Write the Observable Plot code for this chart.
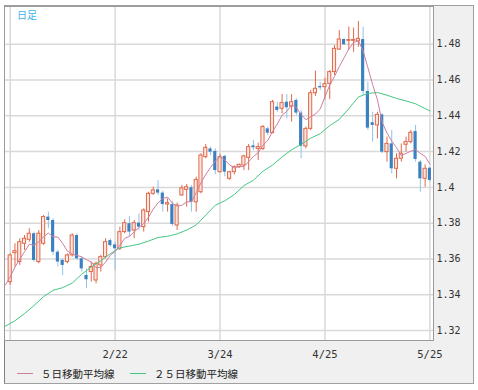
<!DOCTYPE html>
<html>
<head>
<meta charset="utf-8">
<script src="https://cdn.jsdelivr.net/npm/d3@7"></script>
<script src="https://cdn.jsdelivr.net/npm/@observablehq/plot@0.6"></script>
<style>
  html, body { margin: 0; padding: 0; background: #fff; }
  #wrap { position: relative; width: 478px; height: 390px; overflow: hidden; }
  #panel { position: absolute; left: 4px; top: 5px; width: 470px; height: 379px; box-sizing: border-box;
           background: #f0f0f0; border: 1px solid #a0a0a0; border-left-color: #808080; }
  #chart { position: absolute; left: 0; top: 0; }
  #title { position: absolute; left: 17px; top: 7px; color: #3cb4ea; font: 10px "Noto Sans CJK JP"; letter-spacing: 0px; }
  #legend { position: absolute; left: 17px; top: 365px; font: 10.5px "Noto Sans CJK JP"; color: #222; white-space: nowrap; }
  #legend .item { position: absolute; top: 0; display: flex; align-items: center; height: 16px; }
  #legend .sw { display: inline-block; width: 16px; height: 0; border-top: 1px solid; margin-right: 8px; }
</style>
</head>
<body>
<div id="wrap">
  <div id="panel"></div>
  <div id="chart"></div>
  <div id="title">日足</div>
  <div id="legend"></div>
</div>
<script>
// ---- data ----
const barIndex = d3.range(1, 90);
const open  = [1.3471,1.3633,1.3583,1.3685,1.3707,1.3741,1.3583,1.3685,1.3834,1.3815,
               1.3638,1.3592,1.3583,1.3620,1.3731,1.3601,1.3508,1.3527,1.3480,1.3564,
               1.3610,1.3703,1.3679,1.3657,1.3750,1.3797,1.3759,1.3800,1.3778,1.3862,
               1.3964,1.3986,1.3968,1.3904,1.3904,1.3787,1.3955,1.3986,1.3998,1.3917,
               1.3973,1.4169,1.4215,1.4201,1.4085,1.4173,1.4048,1.4085,1.4113,1.4122,
               1.4165,1.4232,1.4215,1.4215,1.4327,1.4303,1.4449,1.4439,1.4476,1.4452,
               1.4486,1.4415,1.4229,1.4327,1.4526,1.4564,1.4560,1.4579,1.4644,1.4770,
               1.4826,1.4819,1.4819,1.4815,1.4826,1.4536,1.4361,1.4346,1.4405,1.4197,
               1.4243,1.4104,1.4160,1.4238,1.4253,1.4312,1.4141,1.4048,1.4107];
const high  = [1.3629,1.3685,1.3713,1.3731,1.3769,1.3750,1.3759,1.3843,1.3862,1.3825,
               1.3648,1.3601,1.3629,1.3741,1.3741,1.3610,1.3545,1.3583,1.3583,1.3620,
               1.3713,1.3713,1.3694,1.3778,1.3819,1.3837,1.3815,1.3852,1.3880,1.3973,
               1.4001,1.4038,1.3979,1.3936,1.3923,1.3912,1.4011,1.4016,1.4011,1.4057,
               1.4188,1.4240,1.4225,1.4215,1.4185,1.4180,1.4090,1.4120,1.4130,1.4180,
               1.4240,1.4262,1.4247,1.4346,1.4337,1.4486,1.4476,1.4519,1.4519,1.4519,
               1.4495,1.4430,1.4337,1.4541,1.4650,1.4588,1.4610,1.4653,1.4793,1.4876,
               1.4830,1.4895,1.4890,1.4927,1.4895,1.4588,1.4420,1.4420,1.4411,1.4281,
               1.4318,1.4188,1.4243,1.4281,1.4318,1.4346,1.4150,1.4126,1.4113];
const low   = [1.3452,1.3555,1.3564,1.3648,1.3694,1.3583,1.3573,1.3676,1.3769,1.3620,
               1.3555,1.3508,1.3573,1.3610,1.3592,1.3527,1.3434,1.3471,1.3461,1.3527,
               1.3601,1.3666,1.3536,1.3647,1.3741,1.3722,1.3713,1.3759,1.3750,1.3806,
               1.3955,1.3955,1.3862,1.3862,1.3782,1.3759,1.3950,1.3890,1.3862,1.3862,
               1.3964,1.4160,1.4178,1.4070,1.4080,1.4060,1.4039,1.4070,1.4105,1.4094,
               1.4094,1.4206,1.4150,1.4206,1.4290,1.4300,1.4420,1.4411,1.4383,1.4365,
               1.4402,1.4160,1.4215,1.4318,1.4508,1.4541,1.4490,1.4490,1.4625,1.4765,
               1.4793,1.4765,1.4755,1.4783,1.4513,1.4318,1.4253,1.4271,1.4188,1.4141,
               1.4076,1.4048,1.4141,1.4197,1.4243,1.4141,1.3973,1.4001,1.4030];
const close = [1.3620,1.3644,1.3694,1.3713,1.3741,1.3592,1.3741,1.3834,1.3815,1.3638,
               1.3583,1.3564,1.3620,1.3731,1.3601,1.3545,1.3484,1.3555,1.3573,1.3610,
               1.3694,1.3675,1.3657,1.3750,1.3800,1.3750,1.3800,1.3778,1.3871,1.3964,
               1.3983,1.3968,1.3904,1.3912,1.3793,1.3899,1.3995,1.4001,1.3917,1.4042,
               1.4178,1.4221,1.4197,1.4094,1.4169,1.4085,1.4085,1.4113,1.4126,1.4173,
               1.4225,1.4221,1.4225,1.4337,1.4303,1.4476,1.4430,1.4471,1.4445,1.4476,
               1.4415,1.4229,1.4327,1.4526,1.4551,1.4556,1.4577,1.4644,1.4774,1.4826,
               1.4797,1.4823,1.4823,1.4830,1.4536,1.4331,1.4346,1.4405,1.4197,1.4243,
               1.4104,1.4160,1.4188,1.4253,1.4305,1.4156,1.4048,1.4104,1.4039];

// 5-day moving average line, one reading per bar (bars 0..89)
const ma5 = [1.3455,1.3500,1.3555,1.3600,1.3640,1.3682,1.3677,1.3696,1.3724,1.3745,
             1.3724,1.3722,1.3687,1.3644,1.3627,1.3620,1.3612,1.3596,1.3583,1.3552,
             1.3553,1.3583,1.3621,1.3642,1.3677,1.3715,1.3726,1.3751,1.3776,1.3800,
             1.3833,1.3879,1.3913,1.3938,1.3946,1.3912,1.3895,1.3900,1.3919,1.3920,
             1.3970,1.4026,1.4072,1.4111,1.4146,1.4172,1.4153,1.4126,1.4109,1.4116,
             1.4116,1.4144,1.4172,1.4194,1.4236,1.4262,1.4312,1.4354,1.4403,1.4425,
             1.4460,1.4447,1.4407,1.4378,1.4395,1.4410,1.4438,1.4507,1.4571,1.4620,
             1.4675,1.4724,1.4773,1.4809,1.4820,1.4762,1.4669,1.4573,1.4490,1.4363,
             1.4304,1.4259,1.4222,1.4178,1.4190,1.4202,1.4212,1.4190,1.4173,1.4130];

// 25-day moving average line, read every second bar
const ma25Bars = [0,2,4,6,8,10,12,14,16,18,20,22,24,26,28,30,32,34,36,38,40,42,44,
                  46,48,50,52,54,56,58,60,62,64,66,68,70,72,74,76,78,80,82,84,86,88,89];
const ma25 = [1.3225,1.3255,1.3295,1.3340,1.3390,1.3425,1.3440,1.3465,1.3515,1.3555,
              1.3590,1.3630,1.3662,1.3672,1.3683,1.3700,1.3720,1.3727,1.3740,1.3762,
              1.3790,1.3845,1.3900,1.3925,1.3960,1.4010,1.4040,1.4090,1.4125,1.4170,
              1.4210,1.4240,1.4275,1.4300,1.4345,1.4380,1.4440,1.4505,1.4525,1.4530,
              1.4515,1.4497,1.4483,1.4467,1.4440,1.4428];

const yTicks  = [1.32,1.34,1.36,1.38,1.40,1.42,1.44,1.46,1.48];
const yLabels = ["1.32","1.34","1.36","1.38","1.4","1.42","1.44","1.46","1.48"];
const gridBars = [1,23,45,67,89];
const xTickBars = [23,45,67,89];
const xLabels = ["2/22","3/24","4/25","5/25"];
const seriesNames = ["５日移動平均線","２５日移動平均線"];
const seriesColors = ["#cc7fa0","#45c784"];

// ---- build tables ----
const candles = barIndex.map((b, k) => ({i: b, open: open[k], high: high[k], low: low[k], close: close[k]}));
const up = candles.filter(d => d.close >= d.open);
const down = candles.filter(d => d.close < d.open);
const ma5Data = ma5.map((v, k) => ({i: k, v}));
const ma25Data = ma25.map((v, k) => ({i: ma25Bars[k], v}));
const hw = 0.33;

const upColor = "#e0684a", upFill = "#fde6df";
const downColor = "#3b80c0", downWick = "#8fc2e8";

const chart = Plot.plot({
  width: 478, height: 390,
  marginLeft: 4, marginRight: 45, marginTop: 6, marginBottom: 50,
  style: {background: "transparent", fontFamily: "DejaVu Sans Mono", fontSize: "10px", color: "#333"},
  x: {type: "linear", domain: [-0.195, 89.755], label: null},
  y: {domain: [1.31446, 1.50106], label: null},
  marks: [
    Plot.frame({fill: "white", stroke: "none"}),
    Plot.gridY(yTicks, {stroke: "#d9d9d9", strokeOpacity: 1, strokeWidth: 1.5}),
    Plot.gridX(gridBars, {stroke: "#d9d9d9", strokeOpacity: 1, strokeWidth: 1.5}),
    Plot.axisY(yTicks, {anchor: "right", tickSize: 0, tickPadding: 3, fontSize: 10, label: null,
                        tickFormat: d => yLabels[yTicks.indexOf(d)], fill: "#333"}),
    Plot.axisX(xTickBars, {anchor: "bottom", tickSize: 0, tickPadding: 10, fontSize: 10.5, label: null,
                           tickFormat: d => xLabels[xTickBars.indexOf(d)], fill: "#333"}),
    Plot.ruleX(down, {x: "i", y1: "low", y2: "high", stroke: downWick, strokeWidth: 1}),
    Plot.ruleX(up, {x: "i", y1: "low", y2: "high", stroke: upColor, strokeWidth: 1}),
    Plot.rect(down, {x1: d => d.i - hw, x2: d => d.i + hw, y1: "open", y2: "close", fill: downColor}),
    Plot.rect(up, {x1: d => d.i - hw, x2: d => d.i + hw, y1: "open", y2: "close", fill: upFill, stroke: upColor, strokeWidth: 1}),
    Plot.line(ma25Data, {x: "i", y: "v", stroke: seriesColors[1], strokeWidth: 1}),
    Plot.line(ma5Data, {x: "i", y: "v", stroke: seriesColors[0], strokeWidth: 1}),
    Plot.frame({stroke: "#9a9a9a", strokeWidth: 1})
  ]
});
document.getElementById("chart").appendChild(chart);

const legend = document.getElementById("legend");
const lx = [0, 113];
seriesNames.forEach((name, k) => {
  const it = document.createElement("div");
  it.className = "item";
  it.style.left = lx[k] + "px";
  const sw = document.createElement("span");
  sw.className = "sw";
  sw.style.borderTopColor = seriesColors[k];
  it.appendChild(sw);
  const t = document.createElement("span");
  t.textContent = name;
  it.appendChild(t);
  legend.appendChild(it);
});
</script>
</body>
</html>
